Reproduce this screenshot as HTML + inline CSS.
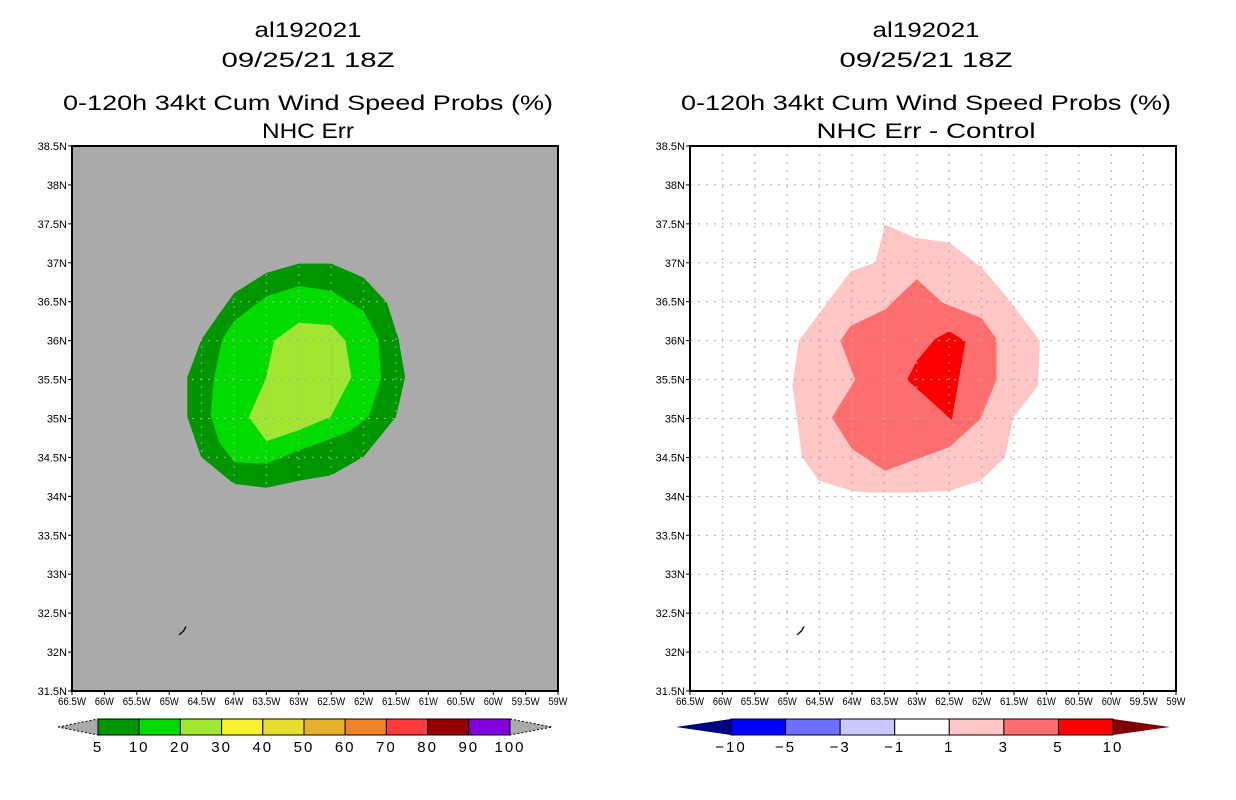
<!DOCTYPE html>
<html><head><meta charset="utf-8"><style>
body{margin:0;background:#fff;}
svg{display:block;font-family:"Liberation Sans",sans-serif;}
</style></head><body>
<svg id="s" width="1236" height="800">
<g font-size="21" text-anchor="middle">
<text x="308" y="37" textLength="107" lengthAdjust="spacingAndGlyphs">al192021</text>
<text x="308" y="67" textLength="173" lengthAdjust="spacingAndGlyphs">09/25/21 18Z</text>
<text x="308" y="110" textLength="490" lengthAdjust="spacingAndGlyphs">0-120h 34kt Cum Wind Speed Probs (%)</text>
<text x="308" y="138" textLength="92" lengthAdjust="spacingAndGlyphs">NHC Err</text>
</g>
<g font-size="21" text-anchor="middle">
<text x="926" y="37" textLength="107" lengthAdjust="spacingAndGlyphs">al192021</text>
<text x="926" y="67" textLength="173" lengthAdjust="spacingAndGlyphs">09/25/21 18Z</text>
<text x="926" y="110" textLength="490" lengthAdjust="spacingAndGlyphs">0-120h 34kt Cum Wind Speed Probs (%)</text>
<text x="926" y="138" textLength="219" lengthAdjust="spacingAndGlyphs">NHC Err - Control</text>
</g>
</svg>
<script>
const lonTicks=["66.5W","66W","65.5W","65W","64.5W","64W","63.5W","63W","62.5W","62W","61.5W","61W","60.5W","60W","59.5W","59W"];
const latTicks=["38.5N","38N","37.5N","37N","36.5N","36N","35.5N","35N","34.5N","34N","33.5N","33N","32.5N","32N","31.5N"];
const leftLon5=[-63.0,-62.5,-62.0,-61.64,-61.46,-61.36,-61.5,-62.0,-62.5,-63.0,-63.5,-64.0,-64.51,-64.72,-64.72,-64.5,-64.18,-64.0,-63.5];
const leftLat5=[36.99,36.99,36.81,36.49,36.02,35.53,35.02,34.51,34.27,34.20,34.11,34.16,34.51,35.02,35.53,36.02,36.40,36.61,36.87];
const leftLon10=[-63.0,-62.5,-62.0,-61.77,-61.73,-61.92,-62.23,-62.5,-63.0,-63.5,-64.0,-64.23,-64.36,-64.31,-64.18,-64.0,-63.5];
const leftLat10=[36.70,36.64,36.38,36.02,35.51,35.02,34.83,34.74,34.59,34.42,34.44,34.70,35.04,35.51,36.02,36.25,36.57];
const leftLon20=[-63.0,-62.5,-62.28,-62.19,-62.51,-63.0,-63.5,-63.77,-63.51,-63.38];
const leftLat20=[36.23,36.20,36.0,35.53,35.02,34.85,34.71,35.02,35.51,36.0];
const rightLon1=[-63.49,-63.02,-62.5,-62.0,-61.64,-61.1,-61.13,-61.51,-61.64,-62.02,-62.5,-63.07,-63.74,-64.0,-64.51,-64.77,-64.92,-64.82,-64.02,-63.64];
const rightLat1=[37.49,37.32,37.26,36.94,36.59,36.0,35.42,35.01,34.5,34.2,34.07,34.05,34.05,34.07,34.2,34.5,35.42,36.0,36.89,37.0];
const rightLon3=[-63.0,-62.61,-62.0,-61.77,-61.77,-62.02,-62.5,-63.0,-63.49,-64.0,-64.31,-63.95,-64.18,-64.02,-63.49];
const rightLat3=[36.79,36.49,36.29,36.02,35.5,34.99,34.63,34.48,34.33,34.61,35.01,35.5,36.0,36.19,36.40];
const rightLon5=[-62.5,-62.25,-62.46,-63.15,-63.0,-62.72];
const rightLat5=[36.12,35.99,34.98,35.50,35.74,36.02];
const leftBarLabels=["5","10","20","30","40","50","60","70","80","90","100"];
const leftBarColors=["#009600","#00dc00","#a0e632","#f8f032","#e6dc32","#e6af2d","#f08228","#fa3c3c","#960000","#8200dc"];
const rightBarLabels=["-10","-5","-3","-1","1","3","5","10"];
const rightBarColors=["#0000ff","#6e6eff","#c8c8ff","#ffffff","#ffc6c6","#ff6e6e","#ff0000"];

const NS="http://www.w3.org/2000/svg";
const svg=document.getElementById('s');
function mk(tag,attrs,parent){const e=document.createElementNS(NS,tag);for(const k in attrs)e.setAttribute(k,attrs[k]);(parent||svg).appendChild(e);return e;}
const W=486,H=545,Y0=146;
function panel(x0,bg,name,polys,gridCol){
  const g=mk('g',{});
  
  
  const xs=lon=>x0+(lon+66.5)/7.5*W;
  const ys=lat=>Y0+(38.5-lat)/7*H;
  const bgr=mk('rect',{x:x0,y:Y0,width:W,height:H,fill:bg},g);
  
  
  polys.forEach(p=>{
    const pts=p.lon.map((l,i)=>xs(l).toFixed(1)+','+ys(p.lat[i]).toFixed(1)).join(' ');
    const e=mk('polygon',{points:pts,fill:p.c},g);
    
    
  });
  for(let i=1;i<lonTicks.length-1;i++){const x=xs(-66.5+i*0.5);const l=mk('line',{x1:x,y1:Y0,x2:x,y2:Y0+H,stroke:gridCol,'stroke-width':1,'stroke-dasharray':'2,6'},g);
    
    }
  for(let i=1;i<latTicks.length-1;i++){const y=ys(38.5-i*0.5);const l=mk('line',{x1:x0,y1:y,x2:x0+W,y2:y,stroke:gridCol,'stroke-width':1,'stroke-dasharray':'2,6'},g);
    
    }
  const isl=mk('path',{d:`M${xs(-64.85)},${ys(32.22)} L${xs(-64.78)},${ys(32.27)} L${xs(-64.74)},${ys(32.33)}`,stroke:'#000','stroke-width':1.3,fill:'none'},g);
  
  
  const fr=mk('rect',{x:x0,y:Y0,width:W,height:H,fill:'none',stroke:'#000','stroke-width':2},g);
  
  
  lonTicks.forEach((t,i)=>{const x=xs(-66.5+i*0.5);
    mk('line',{x1:x,y1:Y0+H,x2:x,y2:Y0+H+4,stroke:'#000'},g);
    const e=mk('text',{x:x,y:Y0+H+14,'font-size':11,'text-anchor':'middle',textLength:t.length>3?28:19,lengthAdjust:'spacingAndGlyphs'},g);e.textContent=t;
    
    });
  latTicks.forEach((t,i)=>{const y=ys(38.5-i*0.5);
    mk('line',{x1:x0-4,y1:y,x2:x0,y2:y,stroke:'#000'},g);
    const e=mk('text',{x:x0-5,y:y+4,'font-size':11,'text-anchor':'end'},g);e.textContent=t;
    
    });
}
panel(72,'#aaaaaa','left-map-panel',[
 {lon:leftLon5,lat:leftLat5,c:'#009600',n:'contour-5pct'},
 {lon:leftLon10,lat:leftLat10,c:'#00dc00',n:'contour-10pct'},
 {lon:leftLon20,lat:leftLat20,c:'#a0e632',n:'contour-20pct'}],'#aaaaaa');
panel(690,'#ffffff','right-map-panel',[
 {lon:rightLon1,lat:rightLat1,c:'#ffc6c6',n:'contour-diff-1'},
 {lon:rightLon3,lat:rightLat3,c:'#ff6e6e',n:'contour-diff-3'},
 {lon:rightLon5,lat:rightLat5,c:'#ff0000',n:'contour-diff-5'}],'#aaaaaa');

function colorbar(name,x0,x1,tl,tr,colors,labels,lc,rc,dash){
  const g=mk('g',{});
  
  
  const y0=719,y1=735,ym=727,bw=(x1-x0)/colors.length;
  const a=mk('polygon',{points:`${tl},${ym} ${x0},${y0} ${x0},${y1}`,fill:lc,stroke:dash?'#000':lc,'stroke-dasharray':dash?'2,2':'none','stroke-width':dash?1:0},g);
  
  
  const b=mk('polygon',{points:`${x1},${y0} ${tr},${ym} ${x1},${y1}`,fill:rc,stroke:dash?'#000':rc,'stroke-dasharray':dash?'2,2':'none','stroke-width':dash?1:0},g);
  
  
  colors.forEach((c,i)=>{const r=mk('rect',{x:x0+i*bw,y:y0,width:bw,height:y1-y0,fill:c,stroke:'#000','stroke-width':1},g);
    
    });
  labels.forEach((t,i)=>{const e=mk('text',{x:x0+i*bw,y:752,'font-size':15,'text-anchor':'middle','letter-spacing':'2'},g);e.textContent=t.replace('-','\u2212');
    
    });
}
colorbar('left-colorbar',98,510,58,552,leftBarColors,leftBarLabels,'#aaaaaa','#aaaaaa',true);
colorbar('right-colorbar',731,1113,676,1170,rightBarColors,rightBarLabels,'#000080','#800000',false);
</script>
</body></html>
